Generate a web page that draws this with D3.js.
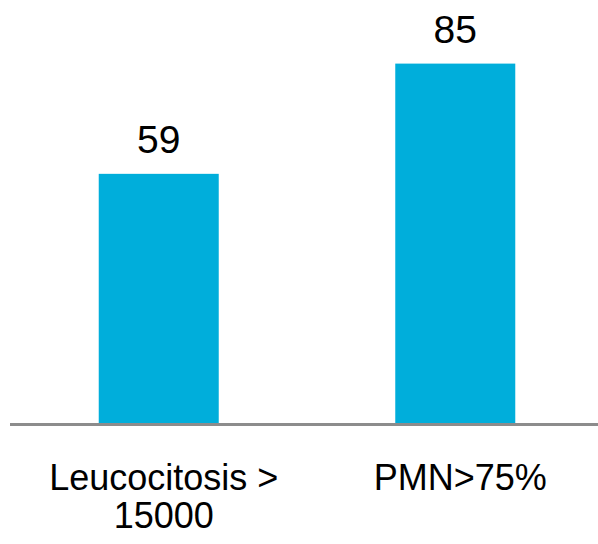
<!DOCTYPE html>
<html>
<head>
<meta charset="utf-8">
<script src="https://cdn.jsdelivr.net/npm/d3@7"></script>
<style>
  body { margin: 0; background: #fff; }
  text { font-family: "Liberation Sans", Arial, sans-serif; fill: #000; }
</style>
</head>
<body>
<div id="chart"></div>
<script>
var categories = ["Leucocitosis > 15000", "PMN>75%"];
var labelLines = [["Leucocitosis >", "15000"], ["PMN>75%"]];
var values = [59, 85];

var width = 598,
    height = 544,
    baseline = 424;

var x = d3.scaleBand()
    .domain(categories)
    .range([12, 602])
    .paddingInner(0.5953)
    .paddingOuter(0.2925);

var y = d3.scaleLinear()
    .domain([0, 100])
    .range([baseline, 0]);

var svg = d3.select("#chart")
    .append("svg")
    .attr("width", width)
    .attr("height", height);

var data = categories.map(function(c, i) {
    return {cat: c, value: values[i], lines: labelLines[i]};
});

svg.selectAll(".bar")
    .data(data)
    .enter().append("rect")
    .attr("class", "bar")
    .attr("x", function(d) { return x(d.cat); })
    .attr("width", x.bandwidth())
    .attr("y", function(d) { return y(d.value); })
    .attr("height", function(d) { return baseline - y(d.value); })
    .style("fill", "#00AEDB");

// value labels
svg.selectAll(".value")
    .data(data)
    .enter().append("text")
    .attr("class", "value")
    .attr("x", function(d) { return x(d.cat) + x.bandwidth() / 2; })
    .attr("y", function(d) { return y(d.value) - 21; })
    .attr("text-anchor", "middle")
    .style("font-size", "39px")
    .text(function(d) { return d.value; });

// baseline
svg.append("line")
    .attr("x1", 10)
    .attr("x2", width)
    .attr("y1", baseline + 0.5)
    .attr("y2", baseline + 0.5)
    .style("stroke", "#8c8c8c")
    .style("stroke-width", 3);

// category labels
var cat = svg.selectAll(".cat")
    .data(data)
    .enter().append("text")
    .attr("class", "cat")
    .attr("text-anchor", "middle")
    .style("font-size", "36px");

cat.selectAll("tspan")
    .data(function(d) {
        return d.lines.map(function(l) { return {line: l, cx: x(d.cat) + x.bandwidth() / 2 + 5}; });
    })
    .enter().append("tspan")
    .attr("x", function(d) { return d.cx; })
    .attr("y", function(d, i) { return 490 + i * 38; })
    .text(function(d) { return d.line; });
</script>
</body>
</html>
